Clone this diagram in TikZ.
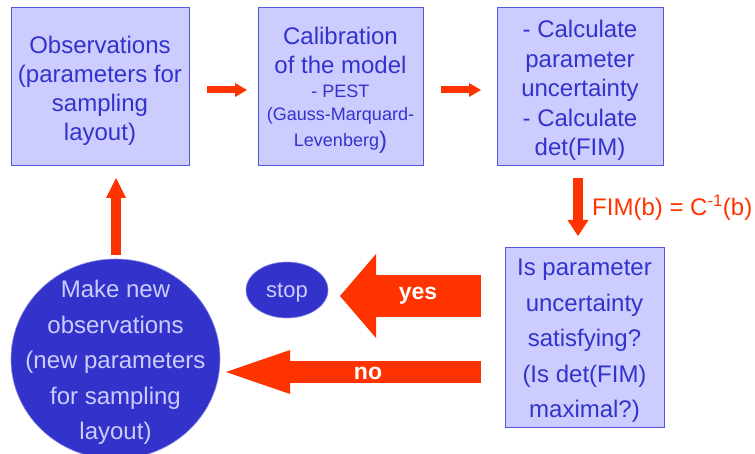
\documentclass[tikz,border=0pt]{standalone}
\usepackage{fontspec}
\setmainfont{Liberation Sans}
\usetikzlibrary{arrows.meta,shapes.geometric}
\definecolor{boxfill}{HTML}{CCCCFF}
\definecolor{boxline}{HTML}{5555DD}
\definecolor{txtblue}{HTML}{3333CC}
\definecolor{arrred}{HTML}{FF3300}
\definecolor{lighttxt}{HTML}{CCCCFF}
\tikzset{
  stepbox/.style={draw=boxline, line width=1pt, fill=boxfill, inner sep=0pt},
  boxtext/.style={text=txtblue, align=center, inner sep=0pt, yshift=-3.5pt},
  bigtxt/.style={font=\fontsize{24}{29}\selectfont},
  loosetxt/.style={font=\fontsize{24}{35.5}\selectfont},
  blobshape/.style={ellipse, draw=boxline!70!white, line width=0.6pt, fill=txtblue, inner sep=0pt},
  blobtext/.style={text=lighttxt, align=center, inner sep=0pt, yshift=-3.5pt},
  blockarrow/.style={draw=arrred, line width=#1, line cap=butt},
}
\begin{document}
\begin{tikzpicture}[x=1pt,y=-1pt]
\useasboundingbox (0,0) rectangle (755,454);

% boxes
\node[stepbox,minimum width=178pt,minimum height=158pt,
      label={[boxtext,bigtxt]center:{Observations\\(parameters for\\sampling\\layout)}}] (obs) at (100,87) {};
\node[stepbox,minimum width=165pt,minimum height=158pt,
      label={[boxtext,bigtxt]center:{Calibration\\of the model\\[-5pt]{\fontsize{18}{22}\selectfont - PEST}\\[-6pt]{\fontsize{18}{22}\selectfont (Gauss-Marquard-}\\[-3pt]{\fontsize{18}{22}\selectfont Levenberg}\raisebox{-2pt}{)}}}] (cal) at (340.5,87) {};
\node[stepbox,minimum width=166pt,minimum height=158pt,
      label={[boxtext,font=\fontsize{24}{29.5}\selectfont]center:{- Calculate\\parameter\\uncertainty\\- Calculate\\det(FIM)}}] (unc) at (580,87) {};
\node[stepbox,minimum width=159pt,minimum height=179pt,
      label={[boxtext,loosetxt]center:{Is parameter\\uncertainty\\satisfying?\\(Is det(FIM)\\maximal?)}}] (sat) at (584.5,337.5) {};

% circle and stop
\node[blobshape,minimum width=209pt,minimum height=200pt,
      label={[blobtext,loosetxt]center:{Make new\\observations\\(new parameters\\for sampling\\layout)}}] (new) at (115.5,359) {};
\node[blobshape,minimum width=82pt,minimum height=56pt,
      label={[blobtext,yshift=1pt,font=\fontsize{22}{26}\selectfont]center:{stop}}] (stop) at (287,290) {};

% arrow end coordinates
\coordinate (a1s) at (207,90);  \coordinate (a1e) at (247,90);
\coordinate (a2s) at (441,90);  \coordinate (a2e) at (481,90);
\coordinate (a3s) at (578,178); \coordinate (a3e) at (578,236);
\coordinate (a4s) at (116,255); \coordinate (a4e) at (116,178);
\coordinate (a5s) at (481,296); \coordinate (a5e) at (340,296);
\coordinate (a6s) at (481,372); \coordinate (a6e) at (226,372);

\draw[blockarrow=7pt, -{Triangle[length=12pt,width=14pt,line width=0pt]}] (a1s) -- (a1e);
\draw[blockarrow=7pt, -{Triangle[length=12pt,width=14pt,line width=0pt]}] (a2s) -- (a2e);
\draw[blockarrow=10pt, -{Triangle[length=16pt,width=21pt,line width=0pt]}] (a3s) -- (a3e);
\draw[blockarrow=10pt, -{Triangle[length=20pt,width=20pt,line width=0pt]}] (a4s) -- (a4e);
\draw[blockarrow=42pt, -{Triangle[length=36pt,width=84pt,line width=0pt]}] (a5s) -- (a5e);
\draw[blockarrow=22pt, -{Triangle[length=64pt,width=44pt,line width=0pt]}] (a6s) -- (a6e);

% labels
\node[text=white,font=\bfseries\fontsize{23}{27}\selectfont] (yes) at (418,296) {yes};
\node[text=white,font=\bfseries\fontsize{23}{27}\selectfont] (no) at (368,373) {no};
\node[anchor=west,text=arrred,font=\fontsize{24}{28}\selectfont,inner sep=0pt] (fim) at (592,208)
  {FIM(b) = C\textsuperscript{-1}(b)};
\end{tikzpicture}
\end{document}
